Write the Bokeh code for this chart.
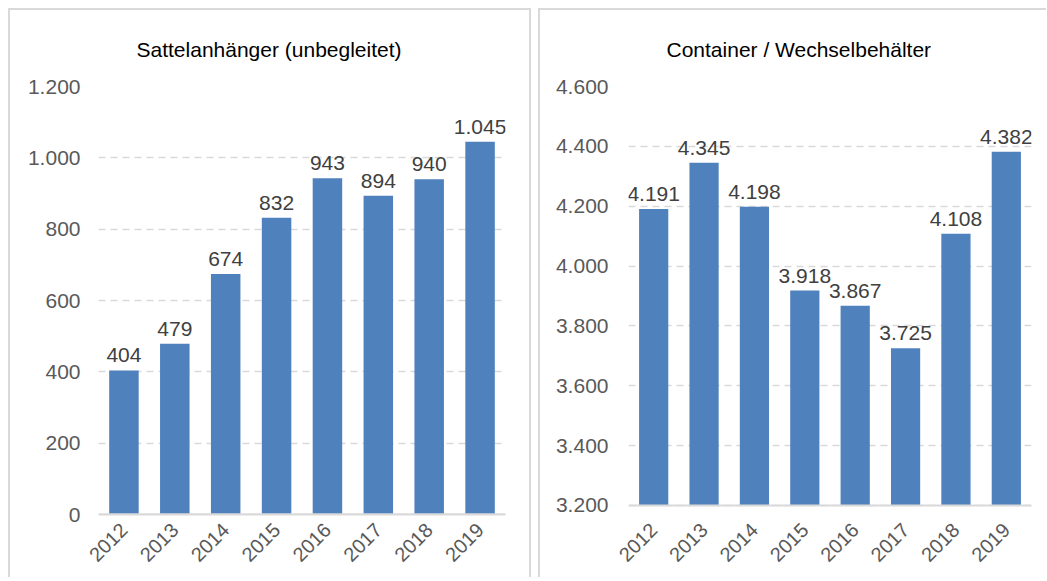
import math
from bokeh.plotting import figure
from bokeh.layouts import row
from bokeh.models import FixedTicker, Range1d, FactorRange, Title, Span
from bokeh.embed import file_html
from bokeh.resources import INLINE
from bokeh.core.properties import value

years = ["2012", "2013", "2014", "2015", "2016", "2017", "2018", "2019"]

semi_title = "Sattelanhänger (unbegleitet)"
semi_values = [404, 479, 674, 832, 943, 894, 940, 1045]
semi_ticks = [0, 200, 400, 600, 800, 1000, 1200]
semi_tick_labels = ["0", "200", "400", "600", "800", "1.000", "1.200"]

cont_title = "Container / Wechselbehälter"
cont_values = [4191, 4345, 4198, 3918, 3867, 3725, 4108, 4382]
cont_ticks = [3200, 3400, 3600, 3800, 4000, 4200, 4400, 4600]
cont_tick_labels = ["3.200", "3.400", "3.600", "3.800", "4.000", "4.200", "4.400", "4.600"]

FONT = "Liberation Sans"
BAR = "#4F81BD"
GRID = "#D9D9D9"
BORDER = "2px solid #D9D9D9"
FRAME_H = 426  # plot-area height in px (both panels share it)


def fmt(v):
    return f"{v:,}".replace(",", ".")


def panel(title, vals, ticks, tick_labels, base, top, axis_px, width,
          mb_right, styles, y_standoff, margin):
    # the value axis spans `axis_px` pixels from `base` to `top`; extend the range
    # below `base` so that the plot area keeps FRAME_H pixels
    span = (top - base) * FRAME_H / axis_px
    lo = top - span
    p = figure(x_range=FactorRange(*years, range_padding=0),
               y_range=Range1d(lo, top),
               width=width, height=569,
               output_backend="svg", toolbar_location=None,
               min_border_left=88, min_border_right=mb_right,
               min_border_top=76, min_border_bottom=65,
               styles=styles, margin=margin)
    p.outline_line_color = None
    p.background_fill_color = "white"
    p.border_fill_color = "white"

    p.add_layout(Title(text=title, align="left", offset=38, standoff=51,
                       text_font=FONT, text_font_size="21px",
                       text_font_style="normal", text_color="#000000"), "above")

    p.vbar(x=years, top=vals, bottom=base, width=0.58, fill_color=BAR, line_color=None)
    p.text(x=years, y=vals, text=[fmt(v) for v in vals],
           text_align="center", text_baseline="alphabetic", y_offset=-15,
           text_font=value(FONT), text_font_size="21px", text_color="#404040")

    p.ygrid.grid_line_color = GRID
    p.ygrid.grid_line_dash = "7 5"
    p.ygrid.grid_line_width = 1.5
    p.ygrid.ticker = FixedTicker(ticks=ticks)
    p.xgrid.grid_line_color = None

    # category axis baseline at the bottom of the value axis
    p.add_layout(Span(location=base, dimension="width", line_color=GRID, line_width=2))

    p.yaxis.ticker = FixedTicker(ticks=ticks)
    p.yaxis.major_label_overrides = {t_: l for t_, l in zip(ticks, tick_labels)}
    p.yaxis.axis_line_color = None
    p.yaxis.major_tick_line_color = None
    p.yaxis.minor_tick_line_color = None
    p.yaxis.major_tick_in = 0
    p.yaxis.major_tick_out = 0
    p.yaxis.minor_tick_in = 0
    p.yaxis.minor_tick_out = 0
    p.yaxis.major_label_text_font = FONT
    p.yaxis.major_label_text_font_size = "21px"
    p.yaxis.major_label_text_color = "#595959"
    p.yaxis.major_label_standoff = y_standoff

    p.xaxis.axis_line_color = GRID if base == lo else None
    p.xaxis.axis_line_width = 2
    p.xaxis.major_tick_line_color = None
    p.xaxis.minor_tick_line_color = None
    p.xaxis.major_tick_in = 0
    p.xaxis.major_tick_out = 0
    p.xaxis.major_label_orientation = math.pi / 4
    p.xaxis.major_label_text_font = FONT
    p.xaxis.major_label_text_font_size = "20px"
    p.xaxis.major_label_text_color = "#595959"
    p.xaxis.major_label_standoff = 12
    return p


left = panel(semi_title, semi_values, semi_ticks, semi_tick_labels, 0, 1200, 426,
             523, 28,
             {"border-top": BORDER, "border-left": BORDER, "border-right": BORDER},
             18, (8, 0, 0, 8))
right = panel(cont_title, cont_values, cont_ticks, cont_tick_labels, 3200, 4600, 417,
              508, 17,
              {"border-top": BORDER, "border-left": BORDER},
              20, (8, 0, 0, 0))

layout = row(left, right, spacing=7)

open("out.html", "w").write(file_html(layout, INLINE))
